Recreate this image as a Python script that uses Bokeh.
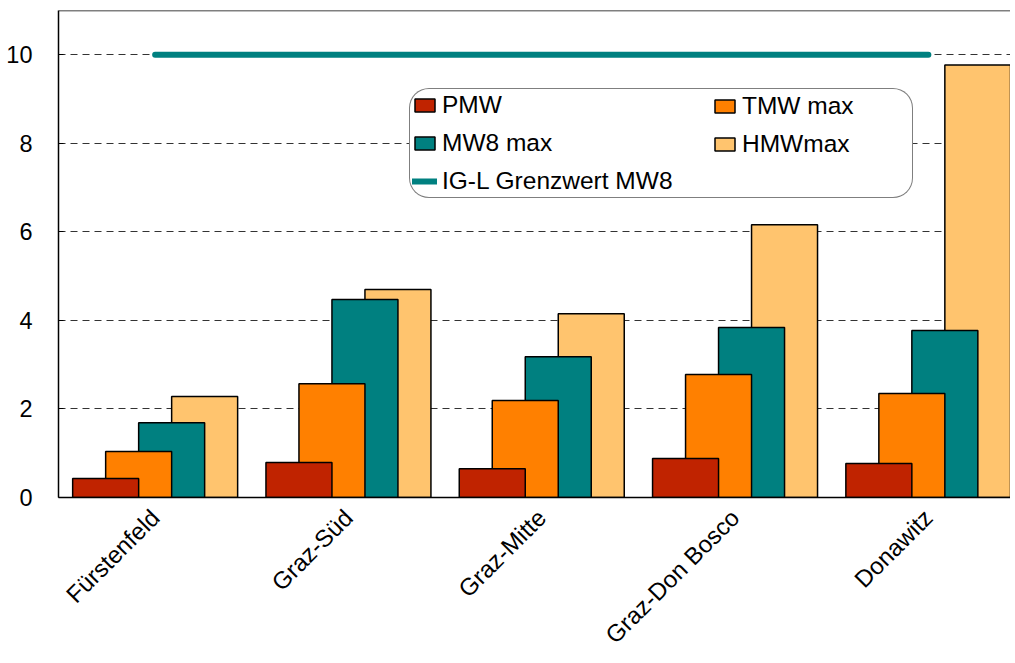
import math
from bokeh.plotting import figure
from bokeh.models import ColumnDataSource, Legend, LegendItem, FixedTicker, Range1d, Span
from bokeh.transform import dodge
from bokeh.embed import file_html
from bokeh.resources import INLINE

stations = ["Fürstenfeld", "Graz-Süd", "Graz-Mitte", "Graz-Don Bosco", "Donawitz"]
pmw = [0.43, 0.79, 0.65, 0.88, 0.77]
tmw_max = [1.04, 2.57, 2.19, 2.78, 2.35]
mw8_max = [1.69, 4.47, 3.18, 3.84, 3.77]
hmw_max = [2.28, 4.70, 4.15, 6.16, 9.77]
limit_mw8 = 10.0
y_ticks = [0, 2, 4, 6, 8, 10]

FONT = "Liberation Sans"

xpos = list(range(len(stations)))
src = ColumnDataSource(dict(x=xpos, pmw=pmw, tmw=tmw_max, mw8=mw8_max, hmw=hmw_max))

p = figure(width=1010, height=662, x_range=Range1d(-0.5, 4.425), y_range=Range1d(0, 11),
           output_backend="svg", toolbar_location=None,
           min_border_left=58, min_border_right=0, min_border_top=10, min_border_bottom=165)
p.outline_line_color = None
p.background_fill_color = "white"
p.border_fill_color = "white"

step = 0.1707
bw = 2 * step
r_hmw = p.vbar(x=dodge("x", 1.5 * step, range=p.x_range), top="hmw", width=bw, source=src,
               fill_color="#FFC46E", line_color="black", line_width=1.5)
r_mw8 = p.vbar(x=dodge("x", 0.5 * step, range=p.x_range), top="mw8", width=bw, source=src,
               fill_color="#008080", line_color="black", line_width=1.5)
r_tmw = p.vbar(x=dodge("x", -0.5 * step, range=p.x_range), top="tmw", width=bw, source=src,
               fill_color="#FF8000", line_color="black", line_width=1.5)
r_pmw = p.vbar(x=dodge("x", -1.5 * step, range=p.x_range), top="pmw", width=bw, source=src,
               fill_color="#C02300", line_color="black", line_width=1.5)

r_lim = p.line(x=[xpos[0], xpos[-1]], y=[limit_mw8, limit_mw8], line_color="#008080",
               line_width=6, line_cap="round")

p.add_layout(Span(location=11, dimension="width", line_color="black", line_width=1.5))

p.xgrid.grid_line_color = None
p.ygrid.ticker = FixedTicker(ticks=y_ticks)
p.ygrid.grid_line_color = "#333333"
p.ygrid.grid_line_dash = "7 5"
p.ygrid.grid_line_width = 1

p.yaxis.ticker = FixedTicker(ticks=y_ticks)
p.yaxis.major_tick_in = 5
p.yaxis.major_tick_out = 0
p.yaxis.minor_tick_line_color = None
p.yaxis.axis_line_width = 1.5
p.yaxis.major_label_standoff = 26
p.yaxis.major_label_text_font = FONT
p.yaxis.major_label_text_font_size = "23.5px"
p.yaxis.major_label_text_color = "black"

p.xaxis.ticker = FixedTicker(ticks=xpos)
p.xaxis.major_label_overrides = {i: s for i, s in zip(xpos, stations)}
p.xaxis.major_label_orientation = math.pi / 4
p.xaxis.major_tick_line_color = None
p.xaxis.minor_tick_line_color = None
p.xaxis.axis_line_width = 1.5
p.xaxis.major_label_standoff = 10
p.xaxis.major_label_text_font = FONT
p.xaxis.major_label_text_font_size = "24px"
p.xaxis.major_label_text_color = "black"


def style_legend(lg):
    lg.label_text_font = FONT
    lg.label_text_font_size = "24.5px"
    lg.label_text_color = "black"
    lg.glyph_width = 25
    lg.glyph_height = 16
    lg.label_standoff = 5
    lg.spacing = 10
    lg.padding = 2
    lg.margin = 0


legend_a = Legend(items=[
    LegendItem(label="PMW", renderers=[r_pmw]),
    LegendItem(label="MW8 max", renderers=[r_mw8]),
    LegendItem(label="IG-L Grenzwert MW8", renderers=[r_lim]),
], location=(351, 299))
style_legend(legend_a)
legend_a.label_width = 468
legend_a.border_line_color = "black"
legend_a.border_line_width = 1.5
legend_a.background_fill_alpha = 1
legend_a.border_radius = 20
p.add_layout(legend_a, "center")

legend_b = Legend(items=[
    LegendItem(label="TMW max", renderers=[r_tmw]),
    LegendItem(label="HMWmax", renderers=[r_hmw]),
], location=(654, 339))
style_legend(legend_b)
legend_b.border_line_color = None
legend_b.background_fill_alpha = 0
p.add_layout(legend_b, "center")

open("out.html", "w").write(file_html(p, INLINE))
